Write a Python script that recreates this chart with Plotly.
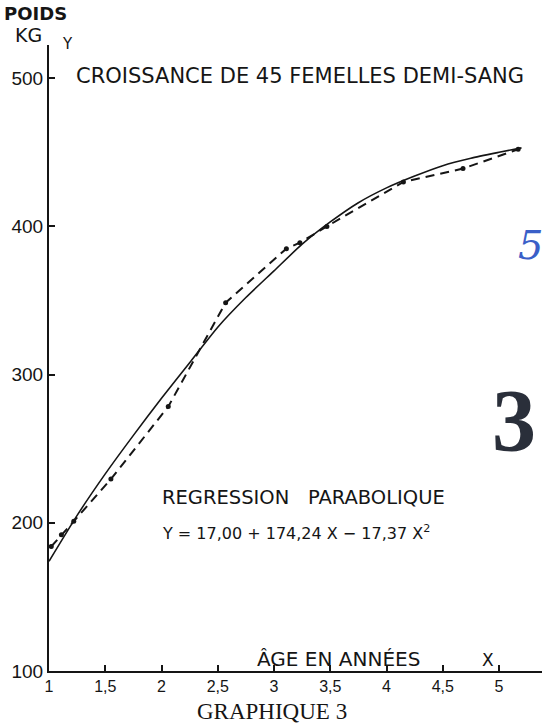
import plotly.graph_objects as go

# Regression curve (solid)
curve_age = [1.0, 1.25, 1.5, 1.75, 2.0, 2.25, 2.5, 2.75, 3.0, 3.25, 3.5, 3.75, 4.0, 4.25, 4.5, 4.75, 5.0, 5.2]
curve_weight = [174, 205, 233, 259, 284, 308, 332, 352, 370, 388, 403, 416, 426, 434, 441, 446, 450, 453]

# Observed means (dashed with dots)
obs_age = [1.02, 1.11, 1.22, 1.55, 2.06, 2.57, 3.11, 3.23, 3.47, 4.15, 4.68, 5.17]
obs_weight = [184, 192, 201, 229.5, 278.4, 348.5, 385, 389, 400, 430, 439, 452]

x_tickvals = [1, 1.5, 2, 2.5, 3, 3.5, 4, 4.5, 5]
x_ticktext = ["1", "1,5", "2", "2,5", "3", "3,5", "4", "4,5", "5"]
y_tickvals = [100, 200, 300, 400, 500]
y_ticktext = ["100", "200", "300", "400", "500"]

INK = "#151515"
FONT = "DejaVu Sans"
TICKFONT = "Liberation Sans"

fig = go.Figure()
fig.add_trace(go.Scatter(x=curve_age, y=curve_weight, mode="lines",
                         line=dict(color=INK, width=1.6, shape="spline", smoothing=0.6),
                         hoverinfo="skip", showlegend=False))
fig.add_trace(go.Scatter(x=obs_age, y=obs_weight, mode="lines+markers",
                         line=dict(color=INK, width=2, dash="9px,6px"),
                         marker=dict(color=INK, size=5),
                         hoverinfo="skip", showlegend=False))

W, H = 542, 727
L, R, T, B = 49, 0, 45, 56

fig.update_layout(
    width=W, height=H,
    margin=dict(l=L, r=R, t=T, b=B),
    paper_bgcolor="white", plot_bgcolor="white",
    font=dict(family=FONT, color=INK, size=15),
    xaxis=dict(range=[1, 1 + (W - L) / 112.5], tickvals=x_tickvals, ticktext=x_ticktext,
               showgrid=False, zeroline=False, showline=True, linecolor=INK, linewidth=2,
               ticks="inside", ticklen=6, tickwidth=1.5, tickcolor=INK,
               tickfont=dict(family=TICKFONT, size=16, color=INK)),
    yaxis=dict(range=[100, 100 + (H - T - B) / 1.482], tickvals=y_tickvals, ticktext=y_ticktext,
               showgrid=False, zeroline=False, showline=True, linecolor=INK, linewidth=2,
               ticks="inside", ticklen=6, tickwidth=1.5, tickcolor=INK,
               tickfont=dict(family=TICKFONT, size=19, color=INK)),
)

pw, ph = W - L - R, H - T - B
def px(xp):
    return (xp - L) / pw
def py(yp):
    return (H - B - yp) / ph

def note(text, x, y, size=15, xanchor="center", family=FONT, color=INK, **kw):
    fig.add_annotation(text=text, x=px(x), y=py(y), xref="paper", yref="paper",
                       xanchor=xanchor, yanchor="middle", showarrow=False,
                       font=dict(family=family, size=size, color=color), **kw)

note("<b>POIDS</b>", 35, 14, size=18)
note("KG", 28, 35, size=19)
note("Y", 67, 44, size=15)
note("CROISSANCE DE 45 FEMELLES DEMI-SANG", 74, 76, size=21, xanchor="left")
note("REGRESSION   PARABOLIQUE", 160, 497, size=19.5, xanchor="left")
note("Y = 17,00 + 174,24 X − 17,37 X<sup>2</sup>", 160, 532, size=16, xanchor="left")
note("ÂGE EN ANNÉES", 255, 659, size=20, xanchor="left")
note("X", 488, 660, size=17)
note("GRAPHIQUE 3", 272, 711, size=23, family="Liberation Serif")
note("<b>3</b>", 514, 420, size=88, family="Liberation Serif", color="#2a2f3a")
note("<i>5</i>", 530, 245, size=40, family="DejaVu Serif", color="#3a5fc8")

fig.write_html("out.html", config={"displayModeBar": False},
               post_script="document.body.style.margin='0';")
